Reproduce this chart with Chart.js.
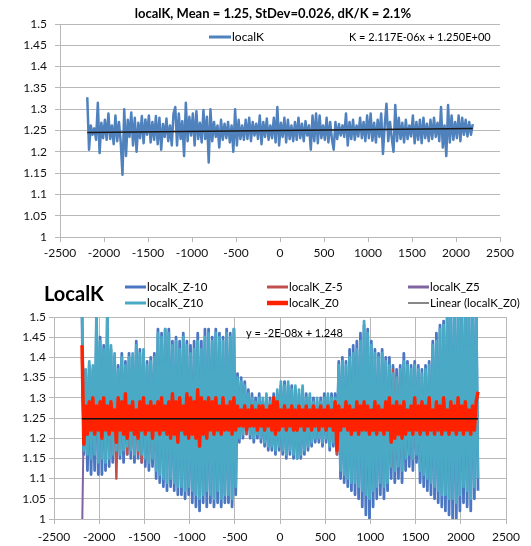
<!DOCTYPE html>
<html>
<head>
<meta charset="utf-8">
<script src="https://cdn.jsdelivr.net/npm/chart.js@4.4.1/dist/chart.umd.min.js"></script>
<style>
  body { margin: 0; background: #fff; }
  #wrap { position: relative; width: 531px; height: 546px; }
  canvas { position: absolute; left: 0; }
  #topChart { top: 0; }
  #bottomChart { top: 262px; }
</style>
</head>
<body>
<div id="wrap">
  <canvas id="topChart" width="531" height="262"></canvas>
  <canvas id="bottomChart" width="531" height="284"></canvas>
</div>
<script>
// sample positions (same for both panels)
const xPos = [
  -2190,-2170,-2150,-2130,-2110,-2090,-2070,-2050,-2030,-2010,
  -1990,-1970,-1950,-1930,-1910,-1890,-1870,-1850,-1830,-1810,
  -1790,-1770,-1750,-1730,-1710,-1690,-1670,-1650,-1630,-1610,
  -1590,-1570,-1550,-1530,-1510,-1490,-1470,-1450,-1430,-1410,
  -1390,-1370,-1350,-1330,-1310,-1290,-1270,-1250,-1230,-1210,
  -1190,-1170,-1150,-1130,-1110,-1090,-1070,-1050,-1030,-1010,
  -990,-970,-950,-930,-910,-890,-870,-850,-830,-810,
  -790,-770,-750,-730,-710,-690,-670,-650,-630,-610,
  -590,-570,-550,-530,-510,-490,-470,-450,-430,-410,
  -390,-370,-350,-330,-310,-290,-270,-250,-230,-210,
  -190,-170,-150,-130,-110,-90,-70,-50,-30,-10,
  10,30,50,70,90,110,130,150,170,190,
  210,230,250,270,290,310,330,350,370,390,
  410,430,450,470,490,510,530,550,570,590,
  610,630,650,670,690,710,730,750,770,790,
  810,830,850,870,890,910,930,950,970,990,
  1010,1030,1050,1070,1090,1110,1130,1150,1170,1190,
  1210,1230,1250,1270,1290,1310,1330,1350,1370,1390,
  1410,1430,1450,1470,1490,1510,1530,1550,1570,1590,
  1610,1630,1650,1670,1690,1710,1730,1750,1770,1790,
  1810,1830,1850,1870,1890,1910,1930,1950,1970,1990,
  2010,2030,2050,2070,2090,2110,2130,2150,2170,2190
];

// top panel
const localK = [
  1.328,1.205,1.262,1.240,1.255,1.228,1.315,1.197,1.268,1.232,
  1.275,1.228,1.290,1.230,1.262,1.218,1.285,1.225,1.270,1.222,
  1.146,1.300,1.190,1.275,1.235,1.292,1.215,1.280,1.200,1.268,
  1.232,1.284,1.220,1.276,1.240,1.285,1.222,1.270,1.228,1.284,
  1.218,1.280,1.205,1.265,1.235,1.278,1.225,1.262,1.215,1.290,
  1.305,1.215,1.290,1.230,1.272,1.190,1.315,1.225,1.282,1.238,
  1.290,1.215,1.295,1.230,1.268,1.222,1.298,1.230,1.282,1.175,
  1.300,1.225,1.270,1.235,1.262,1.210,1.275,1.228,1.266,1.232,
  1.270,1.222,1.262,1.200,1.300,1.215,1.275,1.230,1.262,1.228,
  1.275,1.230,1.280,1.225,1.270,1.238,1.266,1.230,1.285,1.218,
  1.270,1.235,1.278,1.228,1.262,1.232,1.280,1.222,1.305,1.215,
  1.268,1.235,1.280,1.222,1.275,1.230,1.262,1.225,1.270,1.228,
  1.280,1.232,1.266,1.225,1.272,1.238,1.262,1.205,1.285,1.225,
  1.290,1.220,1.285,1.232,1.262,1.228,1.280,1.222,1.270,1.230,
  1.205,1.270,1.230,1.265,1.238,1.262,1.235,1.290,1.215,1.270,
  1.230,1.275,1.228,1.262,1.236,1.280,1.232,1.270,1.225,1.285,
  1.232,1.290,1.226,1.268,1.222,1.275,1.235,1.290,1.195,1.262,
  1.313,1.225,1.270,1.232,1.200,1.310,1.225,1.280,1.230,1.268,
  1.222,1.275,1.230,1.262,1.236,1.285,1.220,1.270,1.228,1.275,
  1.220,1.280,1.232,1.266,1.225,1.275,1.230,1.280,1.235,1.268,
  1.225,1.305,1.210,1.262,1.190,1.310,1.222,1.285,1.228,1.270,
  1.232,1.285,1.225,1.280,1.240,1.275,1.236,1.270,1.240,1.265
];
const trendX = [-2190, 2190];
const trendTop = [1.2454, 1.2546];

// bottom panel
const kZm10 = [
  1.50,1.16,1.36,1.12,1.38,1.11,1.37,1.12,1.49,1.11,
  1.45,1.11,1.43,1.12,1.50,1.13,1.42,1.14,1.40,1.15,
  1.38,1.15,1.41,1.14,1.39,1.16,1.41,1.15,1.40,1.14,
  1.44,1.15,1.42,1.14,1.41,1.13,1.39,1.12,1.40,1.13,
  1.41,1.10,1.47,1.09,1.46,1.08,1.47,1.07,1.47,1.08,
  1.44,1.07,1.45,1.06,1.44,1.06,1.46,1.05,1.44,1.06,
  1.43,1.04,1.44,1.03,1.46,1.02,1.44,1.04,1.47,1.03,
  1.47,1.04,1.45,1.03,1.47,1.04,1.46,1.03,1.45,1.04,
  1.47,1.04,1.46,1.03,1.47,1.06,1.36,1.19,1.35,1.20,
  1.34,1.21,1.32,1.20,1.31,1.19,1.30,1.20,1.31,1.19,
  1.29,1.18,1.30,1.17,1.30,1.17,1.31,1.16,1.31,1.17,
  1.33,1.16,1.34,1.15,1.33,1.16,1.33,1.15,1.32,1.15,
  1.31,1.15,1.32,1.16,1.31,1.17,1.30,1.18,1.30,1.19,
  1.29,1.19,1.30,1.18,1.31,1.19,1.30,1.17,1.31,1.18,
  1.31,1.16,1.39,1.10,1.40,1.09,1.39,1.08,1.42,1.07,
  1.43,1.06,1.44,1.05,1.46,1.03,1.48,1.01,1.47,1.00,
  1.44,1.03,1.42,1.05,1.41,1.06,1.42,1.05,1.40,1.07,
  1.40,1.10,1.38,1.09,1.37,1.10,1.38,1.09,1.41,1.12,
  1.39,1.13,1.38,1.12,1.39,1.14,1.38,1.09,1.37,1.08,
  1.38,1.07,1.39,1.06,1.44,1.05,1.46,1.04,1.48,1.03,
  1.49,1.02,1.52,1.01,1.53,1.00,1.52,1.00,1.53,1.02,
  1.53,1.04,1.52,1.03,1.54,1.02,1.53,1.05,1.54,1.07
];
const kZm5 = [
  1.40,1.19,1.30,1.20,1.31,1.19,1.30,1.20,1.31,1.18,
  1.30,1.19,1.31,1.18,1.29,1.17,1.30,1.18,1.31,1.10,
  1.31,1.17,1.29,1.18,1.31,1.16,1.30,1.17,1.29,1.18,
  1.30,1.16,1.31,1.14,1.30,1.17,1.31,1.16,1.32,1.15,
  1.31,1.16,1.33,1.17,1.30,1.16,1.32,1.15,1.31,1.16,
  1.34,1.16,1.31,1.15,1.33,1.16,1.32,1.15,1.34,1.16,
  1.31,1.15,1.33,1.14,1.32,1.12,1.35,1.16,1.33,1.12,
  1.35,1.16,1.32,1.15,1.31,1.17,1.32,1.16,1.31,1.17,
  1.30,1.18,1.31,1.17,1.30,1.19,1.28,1.21,1.29,1.22,
  1.28,1.21,1.29,1.22,1.28,1.21,1.29,1.22,1.28,1.21,
  1.29,1.21,1.28,1.20,1.29,1.21,1.30,1.20,1.29,1.21,
  1.28,1.21,1.29,1.20,1.28,1.21,1.29,1.20,1.28,1.21,
  1.29,1.22,1.28,1.21,1.29,1.22,1.28,1.21,1.29,1.22,
  1.28,1.21,1.29,1.22,1.28,1.21,1.29,1.20,1.28,1.21,
  1.29,1.16,1.33,1.14,1.31,1.16,1.32,1.17,1.31,1.16,
  1.32,1.17,1.31,1.16,1.33,1.17,1.31,1.16,1.32,1.17,
  1.31,1.17,1.32,1.18,1.31,1.17,1.32,1.18,1.33,1.17,
  1.36,1.13,1.37,1.14,1.35,1.13,1.36,1.15,1.35,1.16,
  1.31,1.18,1.30,1.17,1.31,1.18,1.30,1.17,1.31,1.18,
  1.30,1.17,1.31,1.18,1.32,1.17,1.31,1.16,1.32,1.17,
  1.31,1.18,1.30,1.17,1.32,1.18,1.31,1.17,1.30,1.18,
  1.31,1.19,1.30,1.18,1.32,1.19,1.31,1.19,1.30,1.20
];
const kZ5 = [
  0.95,1.26,1.23,1.27,1.22,1.26,1.23,1.27,1.22,1.26,
  1.23,1.27,1.22,1.26,1.23,1.26,1.24,1.27,1.22,1.26,
  1.23,1.26,1.22,1.27,1.23,1.26,1.24,1.26,1.22,1.27,
  1.22,1.27,1.23,1.26,1.22,1.26,1.23,1.27,1.24,1.26,
  1.23,1.26,1.22,1.27,1.23,1.27,1.22,1.26,1.23,1.26,
  1.24,1.27,1.22,1.26,1.23,1.27,1.23,1.26,1.22,1.27,
  1.23,1.26,1.24,1.26,1.22,1.27,1.23,1.26,1.23,1.27,
  1.22,1.26,1.23,1.27,1.24,1.26,1.22,1.26,1.23,1.27,
  1.23,1.26,1.23,1.26,1.24,1.26,1.23,1.26,1.24,1.26,
  1.24,1.26,1.23,1.26,1.24,1.26,1.23,1.26,1.24,1.26,
  1.23,1.26,1.24,1.26,1.23,1.26,1.24,1.26,1.23,1.26,
  1.24,1.26,1.23,1.26,1.24,1.26,1.23,1.26,1.24,1.26,
  1.23,1.26,1.24,1.26,1.23,1.26,1.24,1.26,1.23,1.26,
  1.24,1.26,1.23,1.26,1.24,1.26,1.23,1.26,1.24,1.26,
  1.23,1.27,1.22,1.26,1.23,1.27,1.22,1.26,1.23,1.27,
  1.22,1.26,1.23,1.27,1.22,1.26,1.23,1.27,1.22,1.26,
  1.23,1.27,1.22,1.26,1.23,1.27,1.22,1.26,1.23,1.27,
  1.22,1.26,1.23,1.27,1.22,1.26,1.23,1.27,1.22,1.26,
  1.23,1.27,1.22,1.26,1.23,1.27,1.22,1.26,1.23,1.27,
  1.22,1.26,1.23,1.27,1.22,1.26,1.23,1.27,1.22,1.26,
  1.23,1.27,1.22,1.26,1.23,1.27,1.22,1.26,1.23,1.27,
  1.22,1.26,1.23,1.27,1.22,1.26,1.23,1.27,1.22,1.26
];
const kZ10 = [
  1.55,1.17,1.37,1.16,1.39,1.15,1.38,1.16,1.52,1.14,
  1.44,1.15,1.42,1.14,1.52,1.15,1.43,1.16,1.41,1.17,
  1.37,1.16,1.40,1.17,1.38,1.18,1.40,1.17,1.41,1.16,
  1.43,1.17,1.41,1.16,1.42,1.15,1.38,1.14,1.39,1.15,
  1.40,1.12,1.46,1.11,1.45,1.10,1.47,1.09,1.46,1.10,
  1.43,1.09,1.44,1.08,1.42,1.08,1.45,1.07,1.43,1.08,
  1.41,1.07,1.42,1.06,1.44,1.05,1.42,1.06,1.45,1.07,
  1.46,1.06,1.44,1.05,1.46,1.07,1.45,1.05,1.44,1.06,
  1.46,1.06,1.45,1.05,1.47,1.08,1.35,1.20,1.34,1.21,
  1.33,1.22,1.31,1.21,1.30,1.20,1.29,1.21,1.30,1.20,
  1.30,1.19,1.31,1.18,1.29,1.18,1.30,1.17,1.32,1.18,
  1.34,1.17,1.33,1.16,1.34,1.17,1.32,1.16,1.33,1.15,
  1.32,1.16,1.33,1.17,1.30,1.18,1.31,1.19,1.29,1.20,
  1.30,1.20,1.29,1.19,1.30,1.20,1.31,1.18,1.30,1.19,
  1.30,1.18,1.38,1.12,1.39,1.11,1.38,1.10,1.40,1.09,
  1.41,1.09,1.42,1.08,1.44,1.07,1.49,1.06,1.46,1.05,
  1.43,1.07,1.41,1.08,1.40,1.09,1.41,1.08,1.39,1.09,
  1.38,1.13,1.36,1.12,1.35,1.13,1.37,1.12,1.39,1.15,
  1.38,1.16,1.37,1.15,1.38,1.16,1.37,1.12,1.36,1.11,
  1.37,1.10,1.38,1.09,1.43,1.08,1.44,1.07,1.47,1.06,
  1.48,1.06,1.50,1.05,1.52,1.05,1.51,1.04,1.52,1.06,
  1.52,1.08,1.51,1.07,1.53,1.05,1.52,1.08,1.53,1.10
];
const kZ0 = [
  1.43,1.185,1.28,1.21,1.29,1.22,1.30,1.21,1.28,1.22,
  1.29,1.20,1.30,1.22,1.28,1.21,1.29,1.22,1.27,1.19,
  1.30,1.22,1.29,1.21,1.31,1.20,1.28,1.22,1.29,1.21,
  1.27,1.20,1.29,1.22,1.30,1.21,1.28,1.22,1.29,1.20,
  1.28,1.22,1.29,1.21,1.30,1.22,1.28,1.21,1.29,1.20,
  1.31,1.21,1.29,1.19,1.30,1.22,1.28,1.21,1.31,1.20,
  1.30,1.21,1.29,1.20,1.32,1.18,1.30,1.21,1.29,1.20,
  1.30,1.22,1.29,1.21,1.30,1.22,1.28,1.21,1.30,1.22,
  1.28,1.22,1.29,1.21,1.30,1.22,1.28,1.23,1.27,1.23,
  1.28,1.22,1.27,1.23,1.28,1.23,1.27,1.22,1.28,1.23,
  1.28,1.22,1.27,1.23,1.28,1.22,1.30,1.21,1.29,1.22,
  1.27,1.23,1.28,1.22,1.27,1.23,1.28,1.22,1.27,1.22,
  1.28,1.23,1.27,1.22,1.28,1.23,1.27,1.22,1.28,1.23,
  1.27,1.22,1.28,1.23,1.27,1.22,1.28,1.23,1.27,1.22,
  1.29,1.17,1.28,1.22,1.27,1.23,1.29,1.22,1.28,1.21,
  1.27,1.22,1.29,1.21,1.28,1.22,1.29,1.22,1.28,1.21,
  1.27,1.22,1.29,1.21,1.28,1.22,1.27,1.21,1.29,1.22,
  1.30,1.19,1.28,1.20,1.29,1.21,1.28,1.20,1.29,1.21,
  1.27,1.22,1.28,1.21,1.30,1.22,1.28,1.21,1.29,1.22,
  1.28,1.21,1.30,1.22,1.27,1.21,1.29,1.22,1.28,1.21,
  1.30,1.22,1.27,1.21,1.29,1.22,1.28,1.21,1.30,1.22,
  1.28,1.21,1.29,1.22,1.27,1.21,1.28,1.22,1.29,1.315
];
const trendBottom = [1.24804, 1.24796];

const xTicks = [-2500, -2000, -1500, -1000, -500, 0, 500, 1000, 1500, 2000, 2500];
const xTickLabels = ['-2500', '-2000', '-1500', '-1000', '-500', '0', '500', '1000', '1500', '2000', '2500'];
const yTicks = [1, 1.05, 1.1, 1.15, 1.2, 1.25, 1.3, 1.35, 1.4, 1.45, 1.5];
const yTickLabels = ['1', '1.05', '1.1', '1.15', '1.2', '1.25', '1.3', '1.35', '1.4', '1.45', '1.5'];

const FONT = 'Lato';
const gridColor = '#b8b8b8';

function pts(ys, xs) {
  xs = xs || xPos;
  return ys.map((y, i) => ({ x: xs[i], y: y }));
}

function line(label, ys, color, width, xs) {
  return {
    label: label,
    data: pts(ys, xs),
    borderColor: color,
    borderWidth: width,
    pointRadius: 0,
    tension: 0,
    borderJoinStyle: 'round',
    fill: false
  };
}

// texts and hand-placed legend
const panelText = {
  id: 'panelText',
  afterDraw(chart, args, opts) {
    const ctx = chart.ctx;
    ctx.save();
    ctx.textBaseline = 'middle';
    (opts.texts || []).forEach(t => {
      ctx.font = t.font;
      ctx.fillStyle = '#000';
      ctx.textAlign = t.align || 'left';
      ctx.fillText(t.text, t.x, t.y);
    });
    (opts.legend || []).forEach(item => {
      const ds = chart.data.datasets[item.index];
      ctx.strokeStyle = ds.borderColor;
      ctx.lineWidth = item.width;
      ctx.lineCap = 'butt';
      ctx.beginPath();
      ctx.moveTo(item.x, item.y);
      ctx.lineTo(item.x + item.len, item.y);
      ctx.stroke();
      ctx.font = opts.legendFont;
      ctx.fillStyle = '#000';
      ctx.textAlign = 'left';
      ctx.fillText(ds.label, item.x + item.len + 1, item.y + 0.5);
    });
    ctx.restore();
  }
};

function makeScales(o) {
  return {
    x: {
      type: 'linear',
      min: -2500,
      max: 2500,
      afterBuildTicks: s => { s.ticks = xTicks.map(v => ({ value: v })); },
      afterFit: s => { s.height = o.xHeight; },
      grid: { drawOnChartArea: o.vGrid, color: gridColor, tickLength: 5 },
      border: { display: true, color: gridColor },
      ticks: {
        autoSkip: false, maxRotation: 0, padding: o.xPad,
        color: '#111', font: { family: FONT, size: 12 },
        callback: v => xTickLabels[xTicks.indexOf(v)]
      }
    },
    y: {
      type: 'linear',
      min: 1,
      max: 1.5,
      afterBuildTicks: s => { s.ticks = yTicks.map(v => ({ value: v })); },
      afterFit: s => { s.width = o.yWidth; },
      grid: { color: gridColor, tickLength: 5 },
      border: { display: true, color: gridColor },
      ticks: {
        padding: o.yPad, color: '#111', font: { family: FONT, size: 12 },
        callback: v => yTickLabels[yTicks.indexOf(v)]
      }
    }
  };
}

const common = {
  responsive: false,
  animation: false,
  devicePixelRatio: 1,
  events: []
};

new Chart(document.getElementById('topChart'), {
  type: 'line',
  data: {
    datasets: [
      line('Linear (localK)', trendTop, '#1a1a1a', 1.5, trendX),
      line('localK', localK, '#4F81BD', 2.5)
    ]
  },
  options: Object.assign({}, common, {
    layout: { padding: { left: 0, right: 31, top: 24, bottom: 0 } },
    scales: makeScales({ xHeight: 25, yWidth: 60, vGrid: false, xPad: 4, yPad: 8 }),
    plugins: {
      legend: { display: false },
      tooltip: { enabled: false },
      panelText: {
        legendFont: '12px ' + FONT,
        texts: [
          { text: 'localK, Mean = 1.25, StDev=0.026, dK/K = 2.1%', x: 273, y: 14, align: 'center', font: 'bold 13px ' + FONT },
          { text: 'K = 2.117E-06x + 1.250E+00', x: 349, y: 37, font: '11px ' + FONT }
        ],
        legend: [
          { index: 1, x: 209, y: 37, len: 22, width: 3 }
        ]
      }
    }
  }),
  plugins: [panelText]
});

new Chart(document.getElementById('bottomChart'), {
  type: 'line',
  data: {
    datasets: [
      line('Linear (localK_Z0)', trendBottom, '#111111', 1.5, trendX),
      line('localK_Z0', kZ0, '#FF2200', 3.5),
      line('localK_Z10', kZ10, '#4AAAC6', 2.8),
      line('localK_Z5', kZ5, '#8064A2', 2),
      line('localK_Z-5', kZm5, '#C0504D', 2.4),
      line('localK_Z-10', kZm10, '#4A76C2', 2.8)
    ]
  },
  options: Object.assign({}, common, {
    layout: { padding: { left: 0, right: 25, top: 55, bottom: 0 } },
    scales: makeScales({ xHeight: 27, yWidth: 54, vGrid: true, xPad: 6, yPad: 3 }),
    plugins: {
      legend: { display: false },
      tooltip: { enabled: false },
      panelText: {
        legendFont: '11.5px ' + FONT,
        texts: [
          { text: 'LocalK', x: 44, y: 33, font: 'bold 20px ' + FONT },
          { text: 'y = -2E-08x + 1.248', x: 246, y: 71, font: '11px ' + FONT }
        ],
        legend: [
          { index: 5, x: 125, y: 25, len: 21, width: 3 },
          { index: 4, x: 267, y: 25, len: 21, width: 3 },
          { index: 3, x: 408, y: 25, len: 21, width: 3 },
          { index: 2, x: 125, y: 41, len: 21, width: 3 },
          { index: 1, x: 267, y: 41, len: 21, width: 4.5 },
          { index: 0, x: 408, y: 41, len: 21, width: 1 }
        ]
      }
    }
  }),
  plugins: [panelText]
});
</script>
</body>
</html>
